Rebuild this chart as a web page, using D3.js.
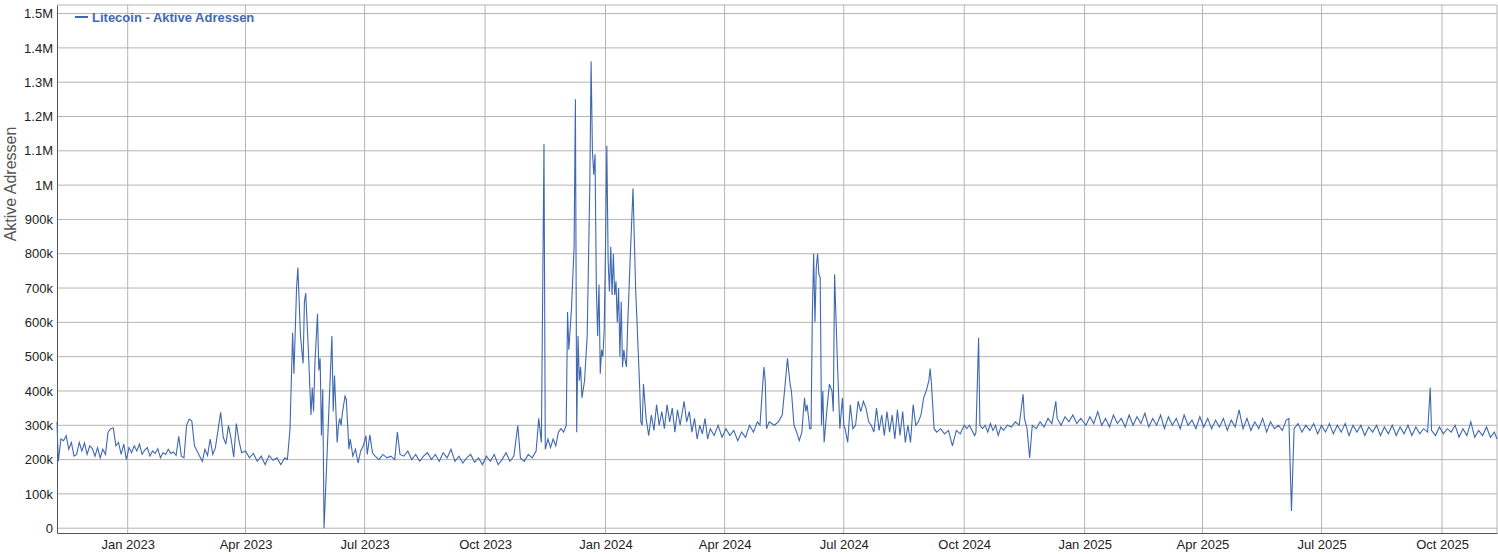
<!DOCTYPE html>
<html>
<head>
<meta charset="utf-8">
<script src="https://cdn.jsdelivr.net/npm/d3@7"></script>
<style>
  body { margin: 0; background: #fff; }
  svg { font-family: Arial, "Liberation Sans", sans-serif; }
</style>
</head>
<body>
<div id="chart"></div>
<script>
// Values are in thousands of active addresses.
const data2022 = [
  ['2022-11-08',310],['2022-11-09',195],['2022-11-11',260],['2022-11-13',255],['2022-11-15',270],
  ['2022-11-17',230],['2022-11-19',250],['2022-11-21',210],['2022-11-23',215],['2022-11-25',250],
  ['2022-11-27',225],['2022-11-29',248],['2022-12-01',215],['2022-12-03',240],['2022-12-05',232],
  ['2022-12-07',210],['2022-12-09',235],['2022-12-11',205],['2022-12-13',230],['2022-12-15',215],
  ['2022-12-17',280],['2022-12-19',290],['2022-12-21',292],['2022-12-23',240],['2022-12-25',250],
  ['2022-12-27',215],['2022-12-29',245],['2022-12-31',200]
];
const data2023 = [
  ['2023-01-02',235],['2023-01-04',220],['2023-01-06',240],['2023-01-08',225],['2023-01-10',245],
  ['2023-01-12',215],['2023-01-14',228],['2023-01-16',235],['2023-01-18',210],['2023-01-20',225],
  ['2023-01-22',218],['2023-01-24',232],['2023-01-26',205],['2023-01-28',220],['2023-01-30',215],
  ['2023-02-01',230],['2023-02-03',218],['2023-02-05',222],['2023-02-07',212],['2023-02-09',268],
  ['2023-02-11',210],['2023-02-13',205],['2023-02-15',300],['2023-02-17',318],['2023-02-19',312],
  ['2023-02-21',240],['2023-02-23',225],['2023-02-25',210],['2023-02-27',195],['2023-03-01',230],
  ['2023-03-03',212],['2023-03-05',260],['2023-03-07',215],['2023-03-09',235],['2023-03-11',285],
  ['2023-03-13',338],['2023-03-15',265],['2023-03-17',245],['2023-03-19',300],['2023-03-21',260],
  ['2023-03-23',208],['2023-03-25',305],['2023-03-27',255],['2023-03-29',220],['2023-04-01',225],
  ['2023-04-04',205],['2023-04-07',218],['2023-04-10',195],['2023-04-13',210],['2023-04-16',185],
  ['2023-04-19',212],['2023-04-22',198],['2023-04-25',205],['2023-04-28',185],['2023-05-01',205],
  ['2023-05-03',200],['2023-05-05',290],['2023-05-07',570],['2023-05-08',450],['2023-05-10',700],
  ['2023-05-11',760],['2023-05-13',560],['2023-05-15',480],['2023-05-16',660],['2023-05-17',685],
  ['2023-05-19',520],['2023-05-21',330],['2023-05-22',410],['2023-05-23',340],['2023-05-24',480],
  ['2023-05-26',625],['2023-05-27',460],['2023-05-28',495],['2023-05-29',270],['2023-05-30',405],
  ['2023-05-31',0],['2023-06-06',560],['2023-06-07',340],['2023-06-08',445],['2023-06-10',250],
  ['2023-06-11',300],['2023-06-12',320],['2023-06-13',300],['2023-06-14',335],['2023-06-16',385],
  ['2023-06-17',375],['2023-06-19',230],['2023-06-20',260],['2023-06-22',210],['2023-06-24',230],
  ['2023-06-26',190],['2023-06-28',225],['2023-06-30',240],['2023-07-02',270],['2023-07-03',215],
  ['2023-07-05',272],['2023-07-07',220],['2023-07-09',210],['2023-07-12',200],['2023-07-15',215],
  ['2023-07-18',205],['2023-07-21',210],['2023-07-24',200],['2023-07-26',280],['2023-07-28',215],
  ['2023-07-31',210],['2023-08-03',225],['2023-08-06',200],['2023-08-09',215],['2023-08-12',195],
  ['2023-08-15',210],['2023-08-18',220],['2023-08-21',200],['2023-08-24',215],['2023-08-27',195],
  ['2023-08-30',220],['2023-09-02',205],['2023-09-05',230],['2023-09-08',195],['2023-09-11',210],
  ['2023-09-14',190],['2023-09-17',205],['2023-09-20',215],['2023-09-23',192],['2023-09-26',205],
  ['2023-09-29',185],['2023-10-02',210],['2023-10-05',195],['2023-10-08',215],['2023-10-11',185],
  ['2023-10-14',200],['2023-10-17',220],['2023-10-20',195],['2023-10-23',210],['2023-10-26',300],
  ['2023-10-28',205],['2023-10-31',195],['2023-11-03',215],['2023-11-06',205],['2023-11-09',225],
  ['2023-11-11',320],['2023-11-13',250],['2023-11-15',1120],['2023-11-16',230],['2023-11-18',260],
  ['2023-11-20',235],['2023-11-22',260],['2023-11-24',240],['2023-11-26',280],['2023-11-28',290],
  ['2023-11-30',280],['2023-12-02',300],['2023-12-03',630],['2023-12-04',520],['2023-12-06',640],
  ['2023-12-08',820],['2023-12-09',1250],['2023-12-10',280],['2023-12-11',560],['2023-12-12',430],
  ['2023-12-13',470],['2023-12-14',380],['2023-12-16',430],['2023-12-18',560],['2023-12-20',1000],
  ['2023-12-21',1360],['2023-12-22',1100],['2023-12-23',1030],['2023-12-24',1090],['2023-12-25',700],
  ['2023-12-26',560],['2023-12-27',710],['2023-12-28',450],['2023-12-29',520],['2023-12-30',500],
  ['2023-12-31',580]
];
const data2024 = [
  ['2024-01-01',820],['2024-01-02',1115],['2024-01-03',780],['2024-01-04',690],['2024-01-05',820],
  ['2024-01-06',680],['2024-01-07',800],['2024-01-08',680],['2024-01-09',720],['2024-01-10',600],
  ['2024-01-11',700],['2024-01-12',500],['2024-01-13',660],['2024-01-14',470],['2024-01-15',520],
  ['2024-01-16',490],['2024-01-17',470],['2024-01-18',600],['2024-01-20',800],['2024-01-22',990],
  ['2024-01-24',700],['2024-01-27',420],['2024-01-28',310],['2024-01-29',300],['2024-01-30',420],
  ['2024-02-01',320],['2024-02-03',270],['2024-02-05',330],['2024-02-07',285],['2024-02-09',360],
  ['2024-02-11',300],['2024-02-13',340],['2024-02-15',290],['2024-02-17',360],['2024-02-19',310],
  ['2024-02-21',350],['2024-02-23',280],['2024-02-25',345],['2024-02-27',300],['2024-03-01',370],
  ['2024-03-03',310],['2024-03-05',340],['2024-03-07',280],['2024-03-09',320],['2024-03-11',260],
  ['2024-03-13',300],['2024-03-15',275],['2024-03-17',320],['2024-03-19',260],['2024-03-21',290],
  ['2024-03-24',270],['2024-03-27',300],['2024-03-30',265],['2024-04-02',290],['2024-04-05',270],
  ['2024-04-08',285],['2024-04-11',255],['2024-04-14',280],['2024-04-17',265],['2024-04-20',300],
  ['2024-04-23',280],['2024-04-26',310],['2024-04-28',300],['2024-05-01',470],['2024-05-02',430],
  ['2024-05-03',290],['2024-05-05',310],['2024-05-07',305],['2024-05-09',300],['2024-05-12',310],
  ['2024-05-15',330],['2024-05-17',410],['2024-05-19',495],['2024-05-21',420],['2024-05-22',400],
  ['2024-05-24',300],['2024-05-26',280],['2024-05-28',255],['2024-05-30',280],['2024-06-01',380],
  ['2024-06-02',340],['2024-06-03',360],['2024-06-05',290],['2024-06-06',290],['2024-06-07',620],
  ['2024-06-08',800],['2024-06-09',600],['2024-06-10',760],['2024-06-11',800],['2024-06-12',740],
  ['2024-06-13',730],['2024-06-14',300],['2024-06-15',400],['2024-06-16',250],['2024-06-18',340],
  ['2024-06-20',420],['2024-06-22',400],['2024-06-23',340],['2024-06-24',740],['2024-06-26',500],
  ['2024-06-28',290],['2024-06-30',380],['2024-07-01',300],['2024-07-02',290],['2024-07-04',250],
  ['2024-07-06',360],['2024-07-08',290],['2024-07-10',300],['2024-07-12',370],['2024-07-14',340],
  ['2024-07-16',370],['2024-07-18',350],['2024-07-20',310],['2024-07-22',300],['2024-07-24',280],
  ['2024-07-26',350],['2024-07-28',285],['2024-07-30',330],['2024-08-01',270],['2024-08-03',340],
  ['2024-08-05',280],['2024-08-07',330],['2024-08-09',260],['2024-08-11',345],['2024-08-13',270],
  ['2024-08-15',340],['2024-08-17',250],['2024-08-19',300],['2024-08-21',250],['2024-08-23',360],
  ['2024-08-25',300],['2024-08-27',310],['2024-08-29',330],['2024-08-31',380],['2024-09-02',400],
  ['2024-09-04',430],['2024-09-05',465],['2024-09-06',420],['2024-09-08',290],['2024-09-10',280],
  ['2024-09-13',290],['2024-09-16',275],['2024-09-19',285],['2024-09-22',240],['2024-09-25',285],
  ['2024-09-28',275],['2024-10-01',300],['2024-10-03',290],['2024-10-05',300],['2024-10-07',285],
  ['2024-10-09',270],['2024-10-10',280],['2024-10-12',555],['2024-10-13',300],['2024-10-15',290],
  ['2024-10-17',300],['2024-10-19',280],['2024-10-21',305],['2024-10-23',285],['2024-10-25',300],
  ['2024-10-27',270],['2024-10-29',295],['2024-10-31',285],['2024-11-03',300],['2024-11-06',295],
  ['2024-11-09',310],['2024-11-12',300],['2024-11-15',390],['2024-11-16',320],['2024-11-18',290],
  ['2024-11-20',205],['2024-11-22',300],['2024-11-25',290],['2024-11-28',310],['2024-12-01',295],
  ['2024-12-04',320],['2024-12-07',305],['2024-12-10',370],['2024-12-11',320],['2024-12-14',300],
  ['2024-12-17',325],['2024-12-20',310],['2024-12-23',330],['2024-12-26',305],['2024-12-29',320]
];
const data2025 = [
  ['2025-01-02',300],['2025-01-05',325],['2025-01-08',305],['2025-01-11',340],['2025-01-14',300],
  ['2025-01-17',320],['2025-01-20',295],['2025-01-23',330],['2025-01-26',305],['2025-01-29',320],
  ['2025-02-01',295],['2025-02-04',330],['2025-02-07',300],['2025-02-10',325],['2025-02-13',305],
  ['2025-02-16',335],['2025-02-19',295],['2025-02-22',320],['2025-02-25',300],['2025-02-28',330],
  ['2025-03-03',290],['2025-03-06',325],['2025-03-09',300],['2025-03-12',320],['2025-03-15',290],
  ['2025-03-18',330],['2025-03-21',300],['2025-03-24',315],['2025-03-27',290],['2025-03-30',325],
  ['2025-04-02',295],['2025-04-05',320],['2025-04-08',290],['2025-04-11',315],['2025-04-14',295],
  ['2025-04-17',320],['2025-04-20',285],['2025-04-23',315],['2025-04-26',295],['2025-04-29',345],
  ['2025-05-02',290],['2025-05-05',320],['2025-05-08',285],['2025-05-11',310],['2025-05-14',290],
  ['2025-05-17',320],['2025-05-20',280],['2025-05-23',310],['2025-05-26',290],['2025-05-29',300],
  ['2025-06-01',285],['2025-06-04',315],['2025-06-06',320],['2025-06-08',50],['2025-06-10',290],
  ['2025-06-13',305],['2025-06-16',280],['2025-06-19',300],['2025-06-22',285],['2025-06-25',305],
  ['2025-06-28',275],['2025-07-01',300],['2025-07-04',280],['2025-07-07',305],['2025-07-10',275],
  ['2025-07-13',300],['2025-07-16',280],['2025-07-19',305],['2025-07-22',270],['2025-07-25',300],
  ['2025-07-28',280],['2025-07-31',300],['2025-08-03',270],['2025-08-06',295],['2025-08-09',280],
  ['2025-08-12',300],['2025-08-15',270],['2025-08-18',295],['2025-08-21',275],['2025-08-24',300],
  ['2025-08-27',270],['2025-08-30',295],['2025-09-02',275],['2025-09-05',300],['2025-09-08',270],
  ['2025-09-11',295],['2025-09-14',275],['2025-09-17',290],['2025-09-20',280],['2025-09-22',410],
  ['2025-09-23',285],['2025-09-26',270],['2025-09-29',295],['2025-10-02',275],['2025-10-05',290],
  ['2025-10-08',280],['2025-10-11',300],['2025-10-14',265],['2025-10-17',290],['2025-10-20',270],
  ['2025-10-23',310],['2025-10-26',265],['2025-10-29',285],['2025-11-01',270],['2025-11-04',295],
  ['2025-11-07',265],['2025-11-10',280],['2025-11-12',260]
];
const yTicks = [0, 100, 200, 300, 400, 500, 600, 700, 800, 900, 1000, 1100, 1200, 1300, 1400, 1500];
const xTickDates = ['2023-01-01','2023-04-01','2023-07-01','2023-10-01','2024-01-01','2024-04-01',
  '2024-07-01','2024-10-01','2025-01-01','2025-04-01','2025-07-01','2025-10-01'];
const seriesName = 'Litecoin - Aktive Adressen';

const W = 1498, H = 554;
const plotLeft = 57, plotRight = 1497, plotTop = 5, plotBottom = 533;
const parse = d3.utcParse('%Y-%m-%d');
const series = [...data2022, ...data2023, ...data2024, ...data2025]
  .map(([d, v]) => ({ date: parse(d), value: v * 1000 }));

const x = d3.scaleUtc()
  .domain([parse('2022-11-08'), parse('2025-11-12')])
  .range([plotLeft, plotRight]);
const y = d3.scaleLinear().domain([-14000, 1525000]).range([plotBottom, plotTop]);

const svg = d3.select('#chart').append('svg').attr('width', W).attr('height', H);

// grid
svg.append('g').selectAll('line').data(yTicks).join('line')
  .attr('x1', plotLeft).attr('x2', plotRight)
  .attr('y1', (d) => y(d * 1000)).attr('y2', (d) => y(d * 1000))
  .attr('stroke', '#b4b4b4').attr('stroke-width', 1);
svg.append('g').selectAll('line').data(xTickDates).join('line')
  .attr('x1', (d) => x(parse(d))).attr('x2', (d) => x(parse(d)))
  .attr('y1', plotTop).attr('y2', plotBottom)
  .attr('stroke', '#b4b4b4').attr('stroke-width', 1);

// axes
const yAxis = svg.append('g').attr('transform', `translate(${plotLeft},0)`)
  .call(d3.axisLeft(y).tickValues(yTicks.map((d) => d * 1000)).tickSize(0).tickPadding(4)
    .tickFormat((d) => d === 0 ? '0' : d >= 1e6 ? (d / 1e6) + 'M' : (d / 1000) + 'k'));
yAxis.select('.domain').attr('stroke', '#555');
yAxis.selectAll('text').attr('font-size', 13).attr('fill', '#222');

const xAxis = svg.append('g').attr('transform', `translate(0,${plotBottom})`)
  .call(d3.axisBottom(x).tickValues(xTickDates.map(parse)).tickSize(0).tickPadding(7)
    .tickFormat(d3.utcFormat('%b %Y')));
xAxis.select('.domain').attr('stroke', '#555');
xAxis.selectAll('text').attr('font-size', 13).attr('fill', '#222');

svg.append('line').attr('x1', plotRight).attr('x2', plotRight).attr('y1', plotTop).attr('y2', plotBottom)
  .attr('stroke', '#b4b4b4');
svg.append('line').attr('x1', plotLeft).attr('x2', plotRight).attr('y1', plotTop).attr('y2', plotTop)
  .attr('stroke', '#b4b4b4');

svg.append('text')
  .attr('transform', `translate(16,${(plotTop + plotBottom) / 2 - 85}) rotate(-90)`)
  .attr('text-anchor', 'middle').attr('font-size', 16).attr('fill', '#555')
  .text('Aktive Adressen');

// line
svg.append('path').datum(series)
  .attr('fill', 'none').attr('stroke', '#3f68b0').attr('stroke-width', 1.1)
  .attr('d', d3.line().x((d) => x(d.date)).y((d) => y(d.value)));

// legend
svg.append('line').attr('x1', 75).attr('x2', 88).attr('y1', 17).attr('y2', 17)
  .attr('stroke', '#3f68b0').attr('stroke-width', 2);
svg.append('text').attr('x', 92).attr('y', 21.5)
  .attr('font-size', 13).attr('font-weight', 'bold').attr('fill', '#4169b0')
  .text(seriesName);
</script>
</body>
</html>
